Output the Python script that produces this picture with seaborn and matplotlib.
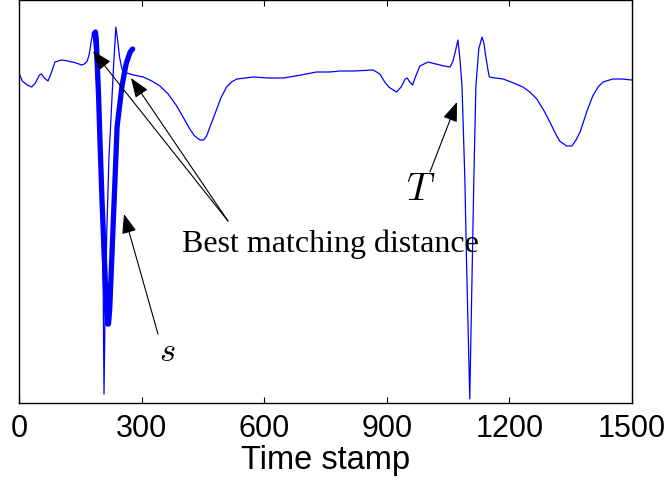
import numpy as np
import pandas as pd
import matplotlib
matplotlib.use("Agg")
import matplotlib.pyplot as plt
import seaborn as sns

# ---- data: long series T (time stamp, amplitude) ----
t_time = [0, 8, 20, 31, 40, 50, 55, 62, 71, 78, 88, 104, 120, 140, 153, 160, 167, 172, 176, 181,
          186, 192, 198, 203, 206, 208, 211, 215, 220, 225, 231, 237, 241, 246, 252, 259, 264, 280,
          304, 325, 345, 365, 386, 400, 418, 430, 443, 452, 459, 470, 484, 495, 508, 520, 533, 574,
          610, 647, 690, 728, 761, 785, 820, 866, 875, 883, 895, 905, 912, 924, 935, 945, 950, 956,
          963, 970, 981, 1001, 1020, 1040, 1055, 1062, 1068, 1074, 1079, 1084, 1091, 1095, 1103,
          1108, 1113, 1118, 1125, 1133, 1138, 1142, 1148, 1151, 1165, 1185, 1210, 1233, 1250, 1267,
          1285, 1299, 1312, 1323, 1340, 1353, 1363, 1373, 1390, 1404, 1417, 1429, 1453, 1475, 1500]
t_pix = [74, 82, 86, 88, 84, 76, 75, 79, 82, 75, 63, 61, 62, 64, 66, 65, 62, 55, 44, 33,
         55, 100, 140, 230, 290, 395, 300, 230, 160, 120, 70, 28, 40, 58, 70, 74, 74, 76,
         78, 82, 87, 95, 107, 117, 130, 137, 141, 141, 137, 125, 110, 98, 88, 83, 80, 78,
         79, 79, 76, 73, 73, 72, 72, 71, 73, 75, 83, 88, 90, 93, 88, 80, 79, 83,
         86, 78, 67, 63, 65, 67, 68, 62, 52, 41, 60, 87, 180, 260, 400,
         290, 180, 87, 50, 38, 45, 57, 72, 78, 79, 80, 84, 88, 93, 100,
         112, 123, 134, 142, 147, 147, 141, 133, 112, 97, 88, 83, 80, 80, 81]
T_values = [(75 - p) / 100 for p in t_pix]

# ---- data: query subsequence s at its best matching location ----
s_time = [184, 187, 189, 191, 195, 198, 203, 210, 214, 217, 219, 222, 226, 233, 240, 252, 262, 272, 278]
s_pix = [35, 33, 40, 60, 100, 140, 200, 270, 310, 325, 325, 310, 270, 200, 128, 87, 65, 53, 50]
s_values = [(75 - p) / 100 for p in s_pix]

x_ticks = [0, 300, 600, 900, 1200, 1500]

sns.set_theme(style="white")
plt.rcParams["font.family"] = ["Liberation Sans", "DejaVu Sans"]
plt.rcParams["mathtext.fontset"] = "cm"
plt.rcParams["text.color"] = "black"
plt.rcParams["axes.labelcolor"] = "black"

fig = plt.figure(figsize=(6.72, 4.81), dpi=100)
ax = fig.add_axes([19 / 672, 77 / 481, 613 / 672, 403 / 481])

dfT = pd.DataFrame({"time": t_time, "value": T_values})
dfs = pd.DataFrame({"time": s_time, "value": s_values})
sns.lineplot(data=dfT, x="time", y="value", color="#0000ff", lw=0.9, ax=ax)
sns.lineplot(data=dfs, x="time", y="value", color="#0000ff", lw=3.8, ax=ax)
ax.lines[-1].set_solid_capstyle("round")
ax.lines[-1].set_solid_joinstyle("round")

ax.set_xlim(0, 1500)
ax.set_ylim((75 - 404) / 100, (75 - 1) / 100)
ax.set_xticks(x_ticks)
ax.set_xticklabels([str(v) for v in x_ticks])
ax.set_yticks([])
ax.set_ylabel("")
ax.set_xlabel("Time stamp", fontsize=23.5, labelpad=1, color="black")
ax.tick_params(axis="x", direction="in", top=True, bottom=True, length=4.5, width=0.8,
               labelsize=22, pad=7, colors="black")
for sp in ax.spines.values():
    sp.set_color("black")
    sp.set_linewidth(1.0)


def px2t(px):
    return (px - 19) / 0.4087


def py2v(py):
    return (75 - py) / 100


arrow = dict(arrowstyle="-|>,head_length=0.8,head_width=0.3", color="black", lw=0.8,
             shrinkA=0, shrinkB=0, mutation_scale=15)
tail = (px2t(228), py2v(222))
ax.annotate("", xy=(px2t(93), py2v(52)), xytext=tail, arrowprops=arrow)
ax.annotate("", xy=(px2t(131), py2v(79)), xytext=tail, arrowprops=arrow)
ax.text(px2t(330), py2v(244), "Best matching distance", ha="center", va="center",
        fontsize=23, color="black", family=["Liberation Serif", "DejaVu Serif"])

ax.annotate("", xy=(px2t(124), py2v(215)), xytext=(px2t(158), py2v(335)), arrowprops=arrow)
ax.text(px2t(167), py2v(352), r"$s$", ha="center", va="center", fontsize=25, color="black")

ax.annotate("", xy=(px2t(457), py2v(103)), xytext=(px2t(430), py2v(173)), arrowprops=arrow)
ax.text(px2t(421), py2v(190), r"$T$", ha="center", va="center", fontsize=28, color="black")

fig.savefig("out.png", dpi=100)
